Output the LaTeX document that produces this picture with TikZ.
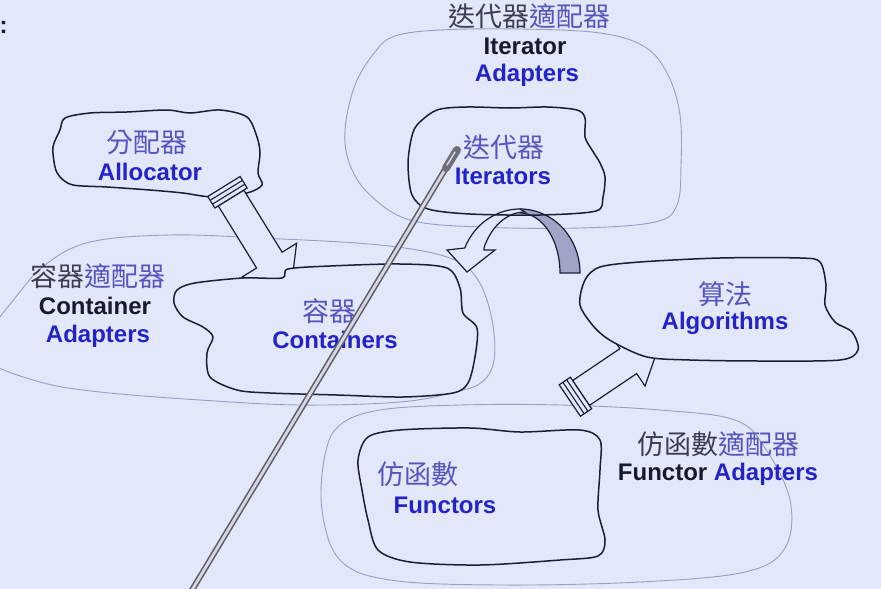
\documentclass[tikz,border=0pt]{standalone}
\usepackage{fontspec}
\setmainfont{Liberation Sans}
\newfontfamily\cjk{Noto Sans CJK TC}
\definecolor{bg}{RGB}{226,231,249}
\definecolor{bluet}{RGB}{35,35,200}
\definecolor{cjkblue}{RGB}{85,85,190}
\definecolor{darkt}{RGB}{25,25,45}
\definecolor{cjkdark}{RGB}{60,60,80}
\definecolor{ink}{RGB}{25,30,55}
\definecolor{faint}{RGB}{150,160,195}
\definecolor{arrgray}{RGB}{160,165,200}
\definecolor{stickdark}{RGB}{95,95,110}
\definecolor{stickhi}{RGB}{215,215,225}
\definecolor{tipgray}{RGB}{110,110,122}
\tikzset{
  cloudk/.style={draw=ink, line width=1.5, fill=bg},
  cloudo/.style={draw=ink, line width=1.5},
  cloudg/.style={draw=faint, line width=0.9},
  blockarr/.style={draw=ink, line width=1.2, fill=bg, line join=miter},
  capline/.style={draw=ink, line width=1.1},
  lat/.style={font=\fontsize{24}{28}\selectfont\bfseries, inner sep=0pt},
  zh/.style={font=\cjk\fontsize{27}{30}\selectfont, inner sep=0pt},
}
\begin{document}
\begin{tikzpicture}[x=1pt,y=-1pt]
\useasboundingbox (0,0) rectangle (881,589);
\clip (0,0) rectangle (881,589);
\fill[bg] (0,0) rectangle (881,589);

% faint adapter clouds
\draw[cloudg] plot[smooth cycle, tension=0.6] coordinates {(375,52) (395,36) (440,30) (520,29) (600,33) (645,47) (668,75) (680,115) (681,165) (677,205) (655,222) (580,228) (480,227) (410,220) (370,195) (350,165) (345,130) (355,85)};
\draw[cloudg] plot[smooth cycle, tension=0.6] coordinates {(-12,335) (15,298) (45,265) (90,242) (170,235) (260,238) (380,245) (450,258) (478,280) (492,320) (494,360) (482,382) (455,392) (400,402) (300,405) (200,400) (100,392) (40,382) (-15,360)};
\draw[cloudg] plot[smooth cycle, tension=0.6] coordinates {(325,455) (340,425) (380,410) (460,405) (560,405) (660,410) (735,420) (765,448) (790,500) (785,548) (745,572) (640,582) (500,585) (390,580) (340,560) (322,510)};

% Allocator cloud
\draw[cloudk] plot[smooth cycle, tension=0.5] coordinates {(65,118) (90,113) (127,112) (167,110) (190,113) (220,110) (247,117) (257,137) (260,153) (258,173) (262,185) (247,193) (213,197) (183,193) (150,190) (107,187) (73,185) (60,177) (55,167) (53,147) (60,130)};

% arrow Allocator -> Containers
\begin{scope}[shift={(231,198)},rotate=-58.3]
  \draw[blockarr] (0,15) -- (73,15) -- (73,32) -- (113,0) -- (73,-32) -- (73,-15) -- (0,-15) -- cycle;
  \draw[blockarr] (-13.5,-19) rectangle (0,19);
  \draw[capline] (-4.5,-19) -- (-4.5,19) (-9,-19) -- (-9,19);
\end{scope}

% Containers cloud
\draw[cloudk] plot[smooth cycle, tension=0.5] coordinates {(177,290) (195,283) (243,278) (282,278) (288,269) (330,266) (400,264) (447,268) (460,288) (463,313) (477,328) (475,357) (468,383) (453,393) (403,397) (337,395) (270,393) (237,390) (210,377) (207,353) (213,337) (203,327) (183,317) (174,303)};

% arrow -> Algorithms
\begin{scope}[shift={(581,393)},rotate=34]
  \draw[blockarr] (0,15) -- (57,15) -- (57,30) -- (97,0) -- (57,-30) -- (57,-15) -- (0,-15) -- cycle;
  \draw[blockarr] (-13.5,-19) rectangle (0,19);
  \draw[capline] (-4.5,-19) -- (-4.5,19) (-9,-19) -- (-9,19);
\end{scope}

% Algorithms cloud
\draw[cloudk] plot[smooth cycle, tension=0.5] coordinates {(585,280) (600,267) (640,262) (720,258) (800,258) (820,262) (826,285) (825,305) (835,322) (852,332) (858,350) (840,360) (760,361) (690,360) (647,357) (613,342) (595,328) (580,305)};

% Iterators cloud (fill)
\fill[bg] plot[smooth cycle, tension=0.5] coordinates {(417,125) (437,110) (467,107) (510,108) (547,107) (577,110) (585,118) (585,137) (592,150) (600,163) (605,177) (603,197) (596,211) (540,215) (470,214) (428,209) (412,195) (408,165) (411,140)};

% curved arrow
\filldraw[draw=ink, line width=1.2, fill=arrgray]
  plot[domain=0:90, samples=30, variable=\t] ({520+60*cos(\t)},{273-64*sin(\t)})
  -- plot[domain=90:0, samples=30, variable=\t] ({520+40*cos(\t)},{273-60*sin(\t)}) -- cycle;
\filldraw[draw=ink, line width=1.2, fill=bg, line join=miter]
  plot[domain=90:157, samples=30, variable=\t] ({520+60*cos(\t)},{273-64*sin(\t)})
  -- (447,250) -- (467,272) -- (495,250) -- (484,250)
  -- plot[domain=156:90, samples=30, variable=\t] ({525+45*cos(\t)},{273-61*sin(\t)}) -- cycle;

% Iterators cloud (outline on top)
\draw[cloudo] plot[smooth cycle, tension=0.5] coordinates {(417,125) (437,110) (467,107) (510,108) (547,107) (577,110) (585,118) (585,137) (592,150) (600,163) (605,177) (603,197) (596,211) (540,215) (470,214) (428,209) (412,195) (408,165) (411,140)};

% Functors cloud
\draw[cloudk] plot[smooth cycle, tension=0.5] coordinates {(368,437) (400,430) (470,428) (520,432) (580,430) (600,440) (600,470) (598,510) (605,540) (598,556) (560,560) (480,565) (410,562) (378,550) (368,520) (362,490) (358,460)};

% texts
\node[lat, text=darkt, anchor=west] (colon) at (-0.5,27) {:};
\node[zh] (ia-zh) at (529,16) {\textcolor{cjkdark}{迭代器}\textcolor{cjkblue}{適配器}};
\node[lat, text=darkt] (ia-en1) at (525,46) {Iterator};
\node[lat, text=bluet] (ia-en2) at (527,75) {Adapters};
\node[zh, text=cjkblue] (al-zh) at (147,143) {分配器};
\node[lat, text=bluet] (al-en) at (150,172) {Allocator};
\node[zh, text=cjkblue] (it-zh) at (504,147) {迭代器};
\node[lat, text=bluet] (it-en) at (503,176) {Iterators};
\node[zh] (ca-zh) at (98,276) {\textcolor{cjkdark}{容器}\textcolor{cjkblue}{適配器}};
\node[lat, text=darkt] (ca-en1) at (95,306) {Container};
\node[lat, text=bluet] (ca-en2) at (98,336) {Adapters};
\node[zh, text=cjkblue] (co-zh) at (329,311) {容器};
\node[lat, text=bluet] (co-en) at (335,340) {Containers};
\node[zh, text=cjkblue] (ag-zh) at (725,294) {算法};
\node[lat, text=bluet] (ag-en) at (725,323) {Algorithms};
\node[zh, text=cjkblue] (fu-zh) at (418,474) {仿函數};
\node[lat, text=bluet] (fu-en) at (445,505) {Functors};
\node[zh] (fa-zh) at (718,444) {\textcolor{cjkdark}{仿函數}\textcolor{cjkblue}{適配器}};
\node[lat] (fa-en) at (718,474) {\textcolor{darkt}{Functor} \textcolor{bluet}{Adapters}};

% pointer stick
\draw[draw=stickdark, line width=1.6, double=stickhi, double distance=2.8] (452,158) -- (186,600);
\draw[tipgray, line width=8, line cap=round] (457,150) -- (446,168);
\draw[stickhi, line width=1.5, line cap=round] (455,152) -- (447,165);
\end{tikzpicture}
\end{document}
